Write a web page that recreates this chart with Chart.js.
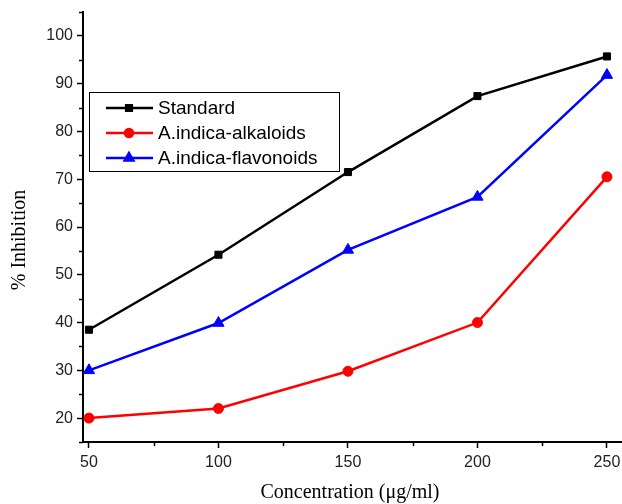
<!DOCTYPE html>
<html>
<head>
<meta charset="utf-8">
<script src="https://cdn.jsdelivr.net/npm/chart.js@4"></script>
<style>
  html, body { margin: 0; padding: 0; background: #fff; overflow: hidden; }
  /* a little wider than the window: the x axis runs off the right edge in the original */
  #wrap { width: 630px; height: 504px; position: relative; }
</style>
</head>
<body>
<div id="wrap"><canvas id="chart"></canvas></div>
<script>
// data
const concentrations = [50, 100, 150, 200, 250];
const standard = [38.5, 54.2, 71.5, 87.4, 95.7];
const alkaloids = [20.0, 22.0, 29.8, 40.0, 70.5];
const flavonoids = [30.0, 39.9, 55.2, 66.3, 91.8];
const xTicks = [50, 100, 150, 200, 250];
const yTicks = [20, 30, 40, 50, 60, 70, 80, 90, 100];
const xMinor = [75, 125, 175, 225];
const yMinor = [15, 25, 35, 45, 55, 65, 75, 85, 95, 105];
const yTitle = '% Inhibition';

const toPoints = vals => vals.map((v, i) => ({ x: concentrations[i], y: v }));

const tickFont = { family: "'Liberation Sans', Arial, sans-serif", size: 16 };
const titleFont = { family: "'Liberation Serif', 'Times New Roman', serif", size: 20 };

// minor ticks, Origin style
const minorTicks = {
    id: 'minorTicks',
    afterDraw(chart) {
        const ctx = chart.ctx;
        const x = chart.scales.x, y = chart.scales.y;
        ctx.save();
        ctx.strokeStyle = '#000';
        ctx.lineWidth = 1.5;
        ctx.beginPath();
        xMinor.forEach(v => {
            const px = Math.round(x.getPixelForValue(v)) + 0.5;
            ctx.moveTo(px, x.top);
            ctx.lineTo(px, x.top + 4);
        });
        yMinor.forEach(v => {
            const py = Math.round(y.getPixelForValue(v)) + 0.5;
            ctx.moveTo(y.right, py);
            ctx.lineTo(y.right - 4, py);
        });
        ctx.stroke();

        // y axis title, sits a bit below the plot centre like the original
        ctx.font = "20px 'Liberation Serif', 'Times New Roman', serif";
        ctx.fillStyle = '#000';
        ctx.textAlign = 'center';
        ctx.textBaseline = 'middle';
        ctx.translate(20, 240);
        ctx.rotate(-Math.PI / 2);
        ctx.fillText(yTitle, 0, 0);
        ctx.restore();
    }
};

// boxed legend placed inside the plot
const boxLegend = {
    id: 'boxLegend',
    afterDraw(chart) {
        const ctx = chart.ctx;
        const left = 89, top = 92, w = 250, h = 79;
        ctx.save();
        ctx.fillStyle = '#fff';
        ctx.fillRect(left, top, w, h);
        ctx.strokeStyle = '#000';
        ctx.lineWidth = 1;
        ctx.strokeRect(left + 0.5, top + 0.5, w, h);
        ctx.font = "19px 'Liberation Sans', Arial, sans-serif";
        ctx.textBaseline = 'middle';
        chart.data.datasets.forEach((ds, i) => {
            const cy = top + 16 + i * 25;
            ctx.strokeStyle = ds.borderColor;
            ctx.lineWidth = 2.5;
            ctx.beginPath();
            ctx.moveTo(left + 17, cy);
            ctx.lineTo(left + 64, cy);
            ctx.stroke();
            ctx.fillStyle = ds.borderColor;
            Chart.helpers.drawPoint(ctx, {
                pointStyle: ds.pointStyle,
                radius: ds.pointStyle === 'triangle' ? 5 : 4,
                borderWidth: 1
            }, left + 40, cy);
            ctx.fillStyle = '#000';
            ctx.textAlign = 'left';
            ctx.fillText(ds.label, left + 69, cy + 1);
        });
        ctx.restore();
    }
};

const data = {
    datasets: [
        {
            label: 'Standard',
            data: toPoints(standard),
            borderColor: '#000000',
            backgroundColor: '#000000',
            pointStyle: 'rect',
            pointRadius: 5
        },
        {
            label: 'A.indica-alkaloids',
            data: toPoints(alkaloids),
            borderColor: '#ff0000',
            backgroundColor: '#ff0000',
            pointStyle: 'circle',
            pointRadius: 5
        },
        {
            label: 'A.indica-flavonoids',
            data: toPoints(flavonoids),
            borderColor: '#0000ff',
            backgroundColor: '#0000ff',
            pointStyle: 'triangle',
            pointRadius: 6.5
        }
    ]
};

const config = {
    type: 'line',
    data: data,
    options: {
        responsive: true,
        maintainAspectRatio: false,
        animation: false,
        clip: false,
        layout: { padding: { left: 0, top: 12, right: 0, bottom: 0 } },
        elements: {
            line: { borderWidth: 2.5, tension: 0 },
            point: { borderWidth: 1 }
        },
        plugins: {
            legend: { display: false },
            tooltip: { enabled: false }
        },
        scales: {
            x: {
                type: 'linear',
                min: 47.7,
                max: 256,
                afterBuildTicks: s => { s.ticks = xTicks.map(v => ({ value: v })); },
                afterFit: s => { s.height = 62; s.paddingLeft = 0; s.paddingRight = 0; },
                grid: { drawOnChartArea: false, drawTicks: true, tickLength: 6, tickWidth: 1.5, tickColor: '#000' },
                border: { display: true, color: '#000', width: 2 },
                ticks: { font: tickFont, color: '#222', padding: 5, maxRotation: 0 },
                title: { display: false }
            },
            y: {
                min: 15,
                max: 105,
                afterBuildTicks: s => { s.ticks = yTicks.map(v => ({ value: v })); },
                afterFit: s => { s.width = 83; s.paddingTop = 0; s.paddingBottom = 0; },
                grid: { drawOnChartArea: false, drawTicks: true, tickLength: 6, tickWidth: 1.5, tickColor: '#000' },
                border: { display: true, color: '#000', width: 2 },
                ticks: { font: tickFont, color: '#222', padding: 4 },
                title: { display: false }
            }
        }
    },
    plugins: [minorTicks, boxLegend, {
        // x title centred on the visible part of the plot
        id: 'xTitle',
        afterDraw(chart) {
            const ctx = chart.ctx;
            ctx.save();
            ctx.font = "20px 'Liberation Serif', 'Times New Roman', serif";
            ctx.fillStyle = '#000';
            ctx.textAlign = 'center';
            ctx.textBaseline = 'middle';
            ctx.fillText('Concentration (μg/ml)', 350, 493);
            ctx.restore();
        }
    }]
};

new Chart(document.getElementById('chart').getContext('2d'), config);
</script>
</body>
</html>
